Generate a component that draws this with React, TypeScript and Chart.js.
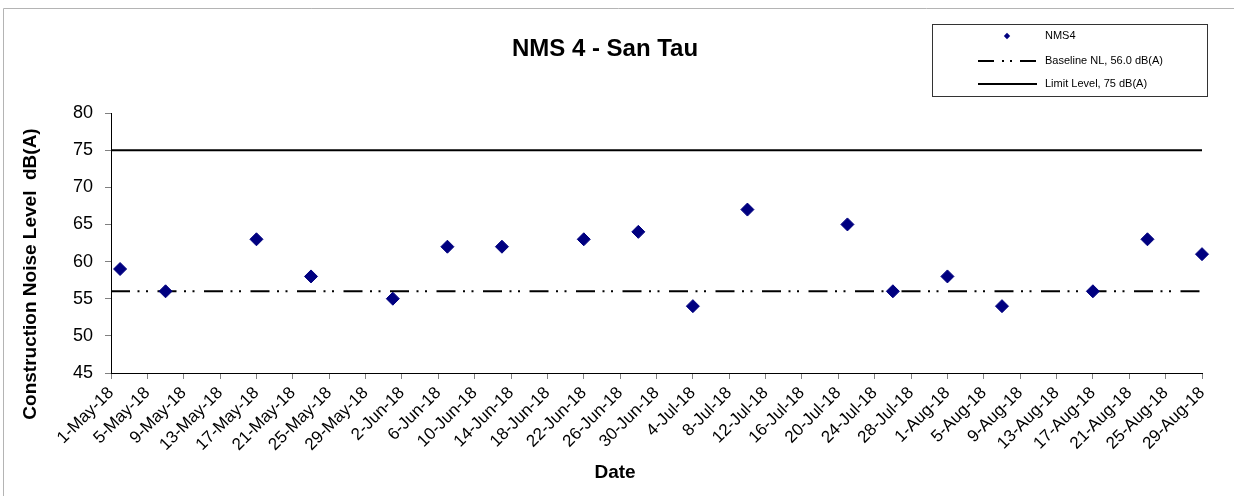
import { useEffect, useRef } from "react";
import { Chart, registerables } from "chart.js";

Chart.register(...registerables);

// ---- data ----
const chartTitle = "NMS 4 - San Tau";
const yAxisTitle = "Construction Noise Level  dB(A)";
const xAxisTitle = "Date";
const seriesName = "NMS4";
const baselineName = "Baseline NL, 56.0 dB(A)";
const limitName = "Limit Level, 75 dB(A)";

const axisStartDate = "1-May-18";
const axisEndDate = "29-Aug-18";
const tickLabels = [
  "1-May-18", "5-May-18", "9-May-18", "13-May-18", "17-May-18", "21-May-18", "25-May-18", "29-May-18",
  "2-Jun-18", "6-Jun-18", "10-Jun-18", "14-Jun-18", "18-Jun-18", "22-Jun-18", "26-Jun-18", "30-Jun-18",
  "4-Jul-18", "8-Jul-18", "12-Jul-18", "16-Jul-18", "20-Jul-18", "24-Jul-18", "28-Jul-18",
  "1-Aug-18", "5-Aug-18", "9-Aug-18", "13-Aug-18", "17-Aug-18", "21-Aug-18", "25-Aug-18", "29-Aug-18",
];
const tickStepDays = 4;

const sampleDates = [
  "2-May-18", "7-May-18", "17-May-18", "23-May-18", "1-Jun-18", "7-Jun-18", "13-Jun-18", "22-Jun-18",
  "28-Jun-18", "4-Jul-18", "10-Jul-18", "21-Jul-18", "26-Jul-18", "1-Aug-18", "7-Aug-18", "17-Aug-18",
  "23-Aug-18", "29-Aug-18",
];
const nms4Values = [59, 56, 63, 58, 55, 62, 62, 63, 64, 54, 67, 65, 56, 58, 54, 56, 63, 61];

const baselineLevel = 56.0;
const limitLevel = 75;

const yMin = 45;
const yMax = 80;
const yStep = 5;

// ---- helpers ----
const MONTHS: Record<string, number> = {
  Jan: 0, Feb: 1, Mar: 2, Apr: 3, May: 4, Jun: 5, Jul: 6, Aug: 7, Sep: 8, Oct: 9, Nov: 10, Dec: 11,
};
function toUTC(label: string): number {
  const [d, m, y] = label.split("-");
  return Date.UTC(2000 + Number(y), MONTHS[m], Number(d));
}
function dayOffset(label: string): number {
  return Math.round((toUTC(label) - toUTC(axisStartDate)) / 86400000);
}

const FONT = "'Liberation Sans', Arial, sans-serif";
const NAVY = "#000080";
const BASE_DASH = [19, 7.5, 2, 6.5, 2, 9.5];

export default function App() {
  const ref = useRef<HTMLCanvasElement | null>(null);

  useEffect(() => {
    const canvas = ref.current;
    if (!canvas) return;
    const xMax = dayOffset(axisEndDate);

    const decor = {
      id: "decor",
      beforeDraw(chart: any) {
        const ctx = chart.ctx;
        ctx.save();
        ctx.fillStyle = "#ffffff";
        ctx.fillRect(0, 0, chart.width, chart.height);
        ctx.restore();
      },
      afterDraw(chart: any) {
        const ctx = chart.ctx as CanvasRenderingContext2D;
        ctx.save();
        // outer frame (left + top edges)
        ctx.strokeStyle = "#b4b4b4";
        ctx.lineWidth = 1;
        ctx.beginPath();
        ctx.moveTo(3.5, chart.height);
        ctx.lineTo(3.5, 8.5);
        ctx.lineTo(chart.width, 8.5);
        ctx.stroke();

        // title
        ctx.fillStyle = "#000";
        ctx.font = `bold 24px ${FONT}`;
        ctx.textAlign = "center";
        ctx.textBaseline = "alphabetic";
        ctx.fillText(chartTitle, 605, 56);

        // x title
        ctx.font = `bold 19px ${FONT}`;
        ctx.fillText(xAxisTitle, 615, 478);

        // y title
        ctx.save();
        ctx.translate(35.5, 274);
        ctx.rotate(-Math.PI / 2);
        ctx.fillText(yAxisTitle, 0, 0);
        ctx.restore();

        // legend
        ctx.strokeStyle = "#333";
        ctx.lineWidth = 1;
        ctx.strokeRect(932.5, 24.5, 275, 72);
        ctx.font = `11px ${FONT}`;
        ctx.textAlign = "left";
        ctx.textBaseline = "middle";
        ctx.fillStyle = "#000";
        ctx.fillText(seriesName, 1045, 36);
        ctx.fillText(baselineName, 1045, 61);
        ctx.fillText(limitName, 1045, 84);
        // marker
        ctx.fillStyle = NAVY;
        ctx.beginPath();
        const r = 3.2;
        ctx.moveTo(1007, 36 - r);
        ctx.lineTo(1007 + r, 36);
        ctx.lineTo(1007, 36 + r);
        ctx.lineTo(1007 - r, 36);
        ctx.closePath();
        ctx.fill();
        // baseline sample
        ctx.strokeStyle = "#000";
        ctx.lineWidth = 2;
        ctx.setLineDash([16, 8, 2, 6, 2, 8]);
        ctx.beginPath();
        ctx.moveTo(978, 61);
        ctx.lineTo(1037, 61);
        ctx.stroke();
        ctx.setLineDash([]);
        ctx.beginPath();
        ctx.moveTo(978, 84);
        ctx.lineTo(1037, 84);
        ctx.stroke();
        ctx.restore();
      },
    };

    const chart = new Chart(canvas, {
      type: "scatter",
      data: {
        datasets: [
          {
            type: "line",
            label: limitName,
            data: [
              { x: 0, y: limitLevel },
              { x: xMax, y: limitLevel },
            ],
            borderColor: "#000",
            borderWidth: 2,
            pointRadius: 0,
            fill: false,
            order: 3,
          } as any,
          {
            type: "line",
            label: baselineName,
            data: [
              { x: 0, y: baselineLevel },
              { x: xMax, y: baselineLevel },
            ],
            borderColor: "#000",
            borderWidth: 2,
            borderDash: BASE_DASH,
            borderCapStyle: "butt",
            pointRadius: 0,
            fill: false,
            order: 2,
          } as any,
          {
            label: seriesName,
            data: sampleDates.map((d, i) => ({ x: dayOffset(d), y: nms4Values[i] })),
            pointStyle: "rectRot",
            pointRadius: 6.5,
            pointBackgroundColor: NAVY,
            pointBorderColor: NAVY,
            pointBorderWidth: 1,
            clip: false,
            order: 1,
          } as any,
        ],
      },
      options: {
        animation: false,
        responsive: false,
        devicePixelRatio: 1,
        layout: { padding: { left: 0, right: 32, top: 113, bottom: 0 } },
        plugins: {
          legend: { display: false },
          title: { display: false },
          tooltip: { enabled: false },
        },
        scales: {
          x: {
            type: "linear",
            min: 0,
            max: xMax,
            afterFit(scale: any) {
              scale.height = 123;
            },
            ticks: {
              stepSize: tickStepDays,
              autoSkip: false,
              maxRotation: 45,
              minRotation: 45,
              padding: 4,
              color: "#000",
              font: { family: FONT, size: 17 },
              callback: (v: any) => tickLabels[Math.round(Number(v) / tickStepDays)] ?? "",
            },
            grid: {
              display: true,
              drawOnChartArea: false,
              drawTicks: true,
              tickLength: 6,
              tickColor: "#808080",
            },
            border: { display: true, color: "#000", width: 1 },
          },
          y: {
            type: "linear",
            min: yMin,
            max: yMax,
            afterFit(scale: any) {
              scale.width = 111;
            },
            ticks: {
              stepSize: yStep,
              padding: 12,
              color: "#000",
              font: { family: FONT, size: 18 },
            },
            grid: {
              display: true,
              drawOnChartArea: false,
              drawTicks: true,
              tickLength: 6,
              tickColor: "#808080",
            },
            border: { display: true, color: "#000", width: 1 },
          },
        },
      },
      plugins: [decor],
    });

    return () => chart.destroy();
  }, []);

  return (
    <div style={{ position: "absolute", left: 0, top: 0, width: 1234, height: 496 }}>
      <canvas ref={ref} width={1234} height={496} style={{ display: "block", width: 1234, height: 496 }} />
    </div>
  );
}
